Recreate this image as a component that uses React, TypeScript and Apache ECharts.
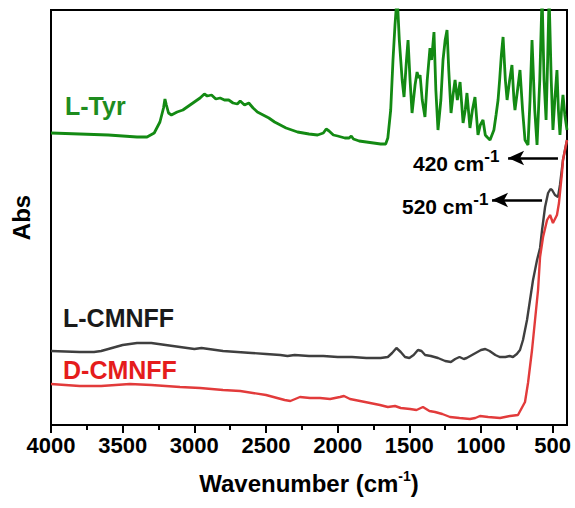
import React, { useEffect, useRef } from "react";
import * as echarts from "echarts";

// Wavenumber (cm-1) and absorbance (arbitrary, offset) values
const tyrWn = [4000, 3800, 3600, 3400, 3330, 3280, 3240, 3215, 3205, 3195, 3180, 3160, 3120, 3080, 3040, 3010, 2990, 2960, 2930, 2910, 2880, 2850, 2820, 2790, 2760, 2730, 2700, 2680, 2650, 2620, 2590, 2560, 2520, 2480, 2440, 2400, 2360, 2320, 2280, 2200, 2140, 2100, 2080, 2060, 2030, 2000, 1950, 1920, 1905, 1890, 1850, 1800, 1750, 1700, 1665, 1650, 1630, 1614, 1600, 1585, 1570, 1550, 1537, 1520, 1509, 1495, 1481, 1460, 1446, 1435, 1425, 1410, 1391, 1375, 1356, 1345, 1328, 1315, 1300, 1280, 1265, 1250, 1237, 1225, 1209, 1195, 1181, 1165, 1146, 1125, 1110, 1098, 1077, 1060, 1042, 1021, 1005, 986, 970, 958, 937, 910, 895, 881, 870, 858, 846, 830, 818, 800, 784, 770, 763, 745, 728, 710, 693, 672, 658, 644, 625, 609, 590, 574, 560, 546, 535, 525, 510, 498, 485, 470, 460, 449, 438, 428, 415, 400];
const tyrAbs = [292, 291, 290, 288, 288, 292, 303, 317, 326, 320, 312, 310, 313, 315, 319, 322, 324, 327, 331, 329, 330, 326, 327, 325, 325, 322, 321, 324, 320, 322, 317, 313, 310, 307, 303, 300, 297, 295, 293, 291, 290, 292, 296, 294, 290, 289, 287, 287, 289, 286, 284, 283, 282, 281, 281, 287, 315, 365, 400, 430, 385, 345, 328, 365, 385, 345, 312, 340, 353, 347, 350, 325, 308, 345, 377, 365, 393, 335, 295, 325, 365, 385, 395, 355, 312, 330, 345, 325, 343, 302, 315, 332, 297, 315, 328, 290, 300, 305, 290, 288, 285, 295, 310, 325, 345, 370, 388, 345, 325, 345, 360, 325, 315, 335, 355, 315, 285, 280, 325, 385, 315, 280, 345, 430, 345, 305, 365, 430, 345, 295, 325, 355, 315, 290, 315, 330, 310, 295];

const lcmWn = [4000, 3800, 3700, 3650, 3600, 3500, 3400, 3300, 3200, 3100, 3000, 2950, 2900, 2800, 2700, 2600, 2500, 2400, 2350, 2300, 2200, 2100, 2000, 1900, 1800, 1700, 1650, 1620, 1590, 1560, 1530, 1500, 1470, 1440, 1415, 1390, 1350, 1300, 1250, 1210, 1180, 1150, 1120, 1100, 1050, 1000, 970, 940, 900, 870, 830, 800, 777, 750, 728, 707, 679, 658, 637, 609, 588, 574, 553, 532, 515, 504, 484, 463, 449, 428, 400];
const lcmAbs = [74, 73, 73, 74, 76, 80, 82, 82, 80, 78, 76, 77, 76, 74, 73, 72, 71, 70, 69, 70, 69, 69, 68, 68, 67, 67, 68, 72, 77, 73, 68, 67, 70, 75, 74, 70, 69, 67, 64, 63, 66, 68, 66, 67, 71, 75, 76, 74, 70, 68, 68, 69, 68, 71, 75, 85, 105, 125, 145, 165, 177, 195, 218, 232, 236, 235, 230, 228, 240, 265, 285];

const dcmWn = [4000, 3800, 3650, 3450, 3300, 3100, 2960, 2800, 2680, 2500, 2370, 2330, 2263, 2193, 2123, 2053, 1984, 1956, 1914, 1809, 1705, 1650, 1600, 1560, 1495, 1450, 1405, 1360, 1321, 1270, 1216, 1150, 1077, 1040, 1007, 950, 867, 798, 742, 693, 672, 644, 623, 602, 588, 567, 539, 518, 498, 470, 456, 435, 428, 407, 400];
const dcmAbs = [41, 39, 39, 41, 40, 38, 37, 35, 34, 30, 25, 24, 28, 27, 27, 26, 28, 29, 26, 23, 20, 18, 19, 17, 16, 15, 18, 14, 13, 11, 8, 7, 6, 7, 9, 8, 7, 9, 10, 23, 42, 75, 105, 135, 168, 188, 205, 210, 202, 210, 222, 252, 265, 280, 285];

const majorTicks = [4000, 3500, 3000, 2500, 2000, 1500, 1000, 500];
const minorTicks = [3750, 3250, 2750, 2250, 1750, 1250, 750];

// annotation arrows: [tail wavenumber, tip wavenumber, level]
const arrow420 = [463, 811, 267];
const arrow520 = [574, 923, 225];

const FONT = 'Arial, "Liberation Sans", Helvetica, sans-serif';

const zip = (a: number[], b: number[]) => a.map((v, i) => [v, b[i]]);

export default function App() {
  const ref = useRef<HTMLDivElement>(null);
  useEffect(() => {
    if (!ref.current) return;
    const chart = echarts.init(ref.current, null, { renderer: "svg" });
    const xCommon = {
      type: "value" as const,
      min: 400,
      max: 4000,
      inverse: true,
      splitLine: { show: false },
    };
    const supRich = (size: number, sup: number, pad: number) => ({
      a: { fontSize: size, fontWeight: "bold", fontFamily: FONT, color: "#000" },
      s: { fontSize: sup, fontWeight: "bold", fontFamily: FONT, color: "#000", padding: [0, 0, pad, 0] },
    });
    chart.setOption({
      animation: false,
      backgroundColor: "#fff",
      grid: {
        left: 51,
        right: 8,
        top: 10,
        bottom: 83,
        show: true,
        borderColor: "#000",
        borderWidth: 2,
        containLabel: false,
      },
      xAxis: [
        {
          ...xCommon,
          position: "bottom",
          axisLine: { show: false },
          axisTick: {
            show: true,
            customValues: majorTicks,
            length: 8,
            lineStyle: { color: "#000", width: 2 },
          },
          axisLabel: {
            show: true,
            customValues: majorTicks,
            formatter: (v: number) => String(v),
            margin: 9,
            fontSize: 22,
            fontWeight: "bold",
            fontFamily: FONT,
            color: "#000",
          },
          name: "{a|Wavenumber (cm}{s|-1}{a|)}",
          nameLocation: "middle",
          nameGap: 44,
          nameTextStyle: {
            fontSize: 24,
            fontWeight: "bold",
            fontFamily: FONT,
            color: "#000",
            rich: supRich(24, 14, 14),
          },
        },
        {
          ...xCommon,
          position: "bottom",
          axisLine: { show: false },
          axisTick: {
            show: true,
            customValues: minorTicks,
            length: 5,
            lineStyle: { color: "#000", width: 2 },
          },
          axisLabel: { show: false },
        },
      ],
      yAxis: {
        type: "value",
        min: 0,
        max: 415,
        axisLine: { show: false },
        axisTick: { show: false },
        axisLabel: { show: false },
        splitLine: { show: false },
        name: "Abs",
        nameLocation: "middle",
        nameGap: 18,
        nameTextStyle: { fontSize: 24, fontWeight: "bold", fontFamily: FONT, color: "#000" },
      },
      series: [
        {
          name: "L-Tyr",
          type: "line",
          data: zip(tyrWn, tyrAbs),
          showSymbol: false,
          clip: true,
          lineStyle: { color: "#138a13", width: 2.8 },
          itemStyle: { color: "#138a13" },
        },
        {
          name: "L-CMNFF",
          type: "line",
          data: zip(lcmWn, lcmAbs),
          showSymbol: false,
          lineStyle: { color: "#3f3f3f", width: 2.4 },
          itemStyle: { color: "#3f3f3f" },
        },
        {
          name: "D-CMNFF",
          type: "line",
          data: zip(dcmWn, dcmAbs),
          showSymbol: false,
          lineStyle: { color: "#e23b3b", width: 2.4 },
          itemStyle: { color: "#e23b3b" },
          markLine: {
            silent: true,
            symbol: ["none", "arrow"],
            symbolSize: [11, 16],
            label: { show: false },
            lineStyle: { color: "#000", width: 2.5, type: "solid" },
            emphasis: { disabled: true },
            data: [
              [{ coord: [arrow420[0], arrow420[2]] }, { coord: [arrow420[1], arrow420[2]] }],
              [{ coord: [arrow520[0], arrow520[2]] }, { coord: [arrow520[1], arrow520[2]] }],
            ],
          },
        },
      ],
      graphic: [
        {
          type: "text",
          x: 65,
          y: 106,
          style: { text: "L-Tyr", fill: "#1e8c1e", fontSize: 25, fontWeight: "bold", fontFamily: FONT, verticalAlign: "middle" },
        },
        {
          type: "text",
          x: 63,
          y: 318,
          style: { text: "L-CMNFF", fill: "#1a1a1a", fontSize: 25, fontWeight: "bold", fontFamily: FONT, verticalAlign: "middle" },
        },
        {
          type: "text",
          x: 63,
          y: 370,
          style: { text: "D-CMNFF", fill: "#e51c1c", fontSize: 25, fontWeight: "bold", fontFamily: FONT, verticalAlign: "middle" },
        },
        {
          type: "text",
          x: 413,
          y: 163,
          style: { text: "{a|420 cm}{s|-1}", verticalAlign: "middle", rich: supRich(21, 17, 14) },
        },
        {
          type: "text",
          x: 402,
          y: 206,
          style: { text: "{a|520 cm}{s|-1}", verticalAlign: "middle", rich: supRich(21, 17, 14) },
        },
      ],
    });
    return () => chart.dispose();
  }, []);
  return (
    <div
      ref={ref}
      style={{ position: "fixed", left: 0, top: 0, width: 575, height: 508, background: "#fff" }}
    />
  );
}
